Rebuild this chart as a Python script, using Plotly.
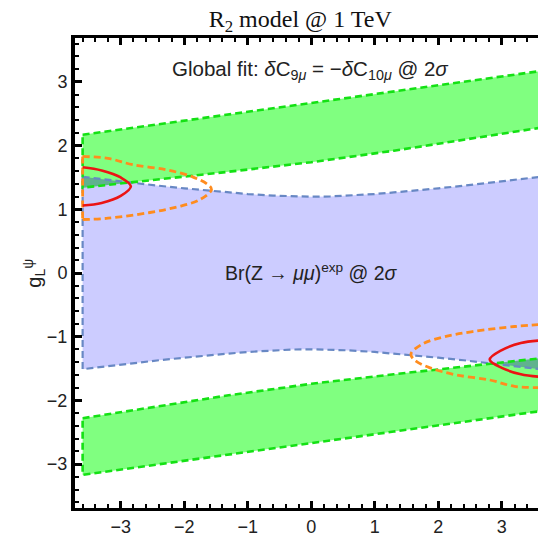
import numpy as np
import plotly.graph_objects as go

# ---------------- data ----------------
# Br(Z -> mu mu) band (blue)
blue_x = [-3.6, -3.2, -2.86, -2.4, -2.0, -1.6, -1.3, -1.0, -0.6, -0.3, 0.0,
          0.3, 0.6, 1.0, 1.3, 1.6, 2.0, 2.4, 2.86, 3.2, 3.6]
blue_up = [1.51, 1.46, 1.42, 1.37, 1.33, 1.29, 1.265, 1.24, 1.215, 1.202, 1.198,
           1.202, 1.215, 1.24, 1.265, 1.29, 1.33, 1.37, 1.42, 1.46, 1.51]
blue_lo = [-1.51, -1.46, -1.42, -1.37, -1.33, -1.29, -1.265, -1.24, -1.215, -1.202, -1.198,
           -1.202, -1.215, -1.24, -1.265, -1.29, -1.33, -1.37, -1.42, -1.46, -1.51]

# global-fit bands (green)
green_x = [-3.6, -1.3, 0.0, 1.3, 3.6]
gup_top = [2.17, 2.49, 2.67, 2.85, 3.17]
gup_bot = [1.34, 1.59, 1.74, 1.92, 2.28]
glo_top = [-2.28, -1.92, -1.74, -1.59, -1.34]
glo_bot = [-3.17, -2.85, -2.67, -2.49, -2.17]

# orange dashed contours (curve part, from top at the edge round the tip to the bottom)
orL_x = [-3.6, -3.2, -2.81, -2.28, -1.87, -1.63, -1.57, -1.76, -2.1, -2.54, -3.2, -3.6]
orL_y = [1.83, 1.80, 1.70, 1.62, 1.51, 1.39, 1.31, 1.15, 1.04, 0.95, 0.86, 0.84]
orR_x = [3.6, 3.2, 2.81, 2.28, 1.87, 1.63, 1.57, 1.76, 2.1, 2.54, 3.2, 3.6]
orR_y = [-1.80, -1.78, -1.68, -1.60, -1.49, -1.37, -1.27, -1.11, -1.00, -0.92, -0.84, -0.81]

# red solid contours
rdL_x = [-3.6, -3.3, -3.0, -2.84, -3.0, -3.3, -3.6]
rdL_y = [1.66, 1.61, 1.50, 1.36, 1.21, 1.10, 1.06]
rdR_x = [3.6, 3.3, 3.0, 2.81, 3.0, 3.3, 3.6]
rdR_y = [-1.63, -1.59, -1.49, -1.36, -1.21, -1.10, -1.06]

x_ticks = [-3, -2, -1, 0, 1, 2, 3]
y_ticks = [-3, -2, -1, 0, 1, 2, 3]

# ---------------- styles ----------------
BLUE_FILL = "rgb(204,204,255)"
BLUE_LINE = "rgb(104,136,196)"
GREEN_FILL = "rgb(128,255,128)"
GREEN_LINE = "rgb(20,225,20)"
DARK_FILL = "rgb(96,178,142)"
ORANGE = "rgb(255,140,30)"
RED = "rgb(235,20,20)"
DASH = "7px,4px"

fig = go.Figure()


def poly(xs, top, bot):
    return list(xs) + list(xs)[::-1] + [xs[0]], list(top) + list(bot)[::-1] + [top[0]]


# fills
px, py = poly(blue_x, blue_up, blue_lo)
fig.add_trace(go.Scatter(x=px, y=py, mode="lines", fill="toself", fillcolor=BLUE_FILL,
                         line=dict(width=0), hoverinfo="skip", showlegend=False))
for top, bot in [(gup_top, gup_bot), (glo_top, glo_bot)]:
    px, py = poly(green_x, top, bot)
    fig.add_trace(go.Scatter(x=px, y=py, mode="lines", fill="toself", fillcolor=GREEN_FILL,
                             line=dict(width=0), hoverinfo="skip", showlegend=False))

# overlap of the green and blue bands (darker)
xs = np.linspace(blue_x[0], blue_x[-1], 721)
bu = np.interp(xs, blue_x, blue_up)
bl = np.interp(xs, blue_x, blue_lo)
for gt, gb in [(gup_top, gup_bot), (glo_top, glo_bot)]:
    t = np.minimum(bu, np.interp(xs, green_x, gt))
    b = np.maximum(bl, np.interp(xs, green_x, gb))
    m = t > b
    if m.any():
        xx = xs[m]
        fig.add_trace(go.Scatter(x=list(xx) + list(xx[::-1]), y=list(t[m]) + list(b[m][::-1]),
                                 mode="lines", fill="toself", fillcolor=DARK_FILL,
                                 line=dict(width=0), hoverinfo="skip", showlegend=False))

# outlines
px, py = poly(blue_x, blue_up, blue_lo)
fig.add_trace(go.Scatter(x=px, y=py, mode="lines",
                         line=dict(color=BLUE_LINE, width=2.2, dash=DASH),
                         hoverinfo="skip", showlegend=False))
for top, bot in [(gup_top, gup_bot), (glo_top, glo_bot)]:
    px, py = poly(green_x, top, bot)
    fig.add_trace(go.Scatter(x=px, y=py, mode="lines",
                             line=dict(color=GREEN_LINE, width=2.6, dash=DASH),
                             hoverinfo="skip", showlegend=False))

for cx, cy in [(orL_x, orL_y), (orR_x, orR_y)]:
    fig.add_trace(go.Scatter(x=cx, y=cy, mode="lines",
                             line=dict(color=ORANGE, width=2.8, dash=DASH, shape="spline", smoothing=1.0),
                             hoverinfo="skip", showlegend=False))
    fig.add_trace(go.Scatter(x=[cx[0], cx[-1]], y=[cy[0], cy[-1]], mode="lines",
                             line=dict(color=ORANGE, width=2.8, dash=DASH),
                             hoverinfo="skip", showlegend=False))
for cx, cy in [(rdL_x, rdL_y), (rdR_x, rdR_y)]:
    fig.add_trace(go.Scatter(x=cx, y=cy, mode="lines",
                             line=dict(color=RED, width=2.6, shape="spline", smoothing=1.0),
                             hoverinfo="skip", showlegend=False))

TICKFONT = dict(family="Liberation Sans, Arial, sans-serif", size=18, color="#222")

fig.update_layout(
    width=538, height=536,
    margin=dict(l=75, r=0, t=38, b=28),
    paper_bgcolor="white", plot_bgcolor="white",
    title=dict(text="R<sub>2</sub> model @ 1 TeV", x=0.558, xanchor="center",
               y=0.966, yanchor="middle",
               font=dict(family="Liberation Serif, Times New Roman, serif", size=24, color="#111")),
    xaxis=dict(range=[-3.72, 3.57], tickmode="array", tickvals=x_ticks,
               ticktext=[("−" + str(-v)) if v < 0 else str(v) for v in x_ticks],
               showgrid=False, zeroline=False, showline=True, linecolor="black", linewidth=3,
               mirror="ticks", ticks="inside", ticklen=7, tickwidth=2.5, tickcolor="black",
               minor=dict(ticks="inside", dtick=0.2, tick0=0, ticklen=4, tickwidth=2, tickcolor="black"),
               tickfont=TICKFONT),
    yaxis=dict(range=[-3.69, 3.69], tickmode="array", tickvals=y_ticks,
               ticktext=[("−" + str(-v)) if v < 0 else str(v) for v in y_ticks],
               showgrid=False, zeroline=False, showline=True, linecolor="black", linewidth=4,
               mirror=False, ticks="inside", ticklen=7, tickwidth=2.5, tickcolor="black",
               minor=dict(ticks="inside", dtick=0.2, tick0=0, ticklen=4, tickwidth=2, tickcolor="black"),
               tickfont=TICKFONT),
    annotations=[
        dict(text="Global fit: <i>δ</i>C<sub>9<i>μ</i></sub> = −<i>δ</i>C<sub>10<i>μ</i></sub> @ 2<i>σ</i>",
             x=-0.02, y=3.19, xref="x", yref="y", showarrow=False,
             font=dict(family="Liberation Sans, Arial, sans-serif", size=20.5, color="#222")),
        dict(text="Br(Z → <i>μμ</i>)<sup>exp</sup> @ 2<i>σ</i>",
             x=0.0, y=0.02, xref="x", yref="y", showarrow=False,
             font=dict(family="Liberation Sans, Arial, sans-serif", size=19.5, color="#222")),
        dict(text="g<sub>L</sub><sup>ψ</sup>", textangle=-90,
             x=-0.125, y=0.5, xref="paper", yref="paper", showarrow=False,
             font=dict(family="Liberation Sans, Arial, sans-serif", size=20, color="#222")),
    ],
)

fig.write_html("out.html")
